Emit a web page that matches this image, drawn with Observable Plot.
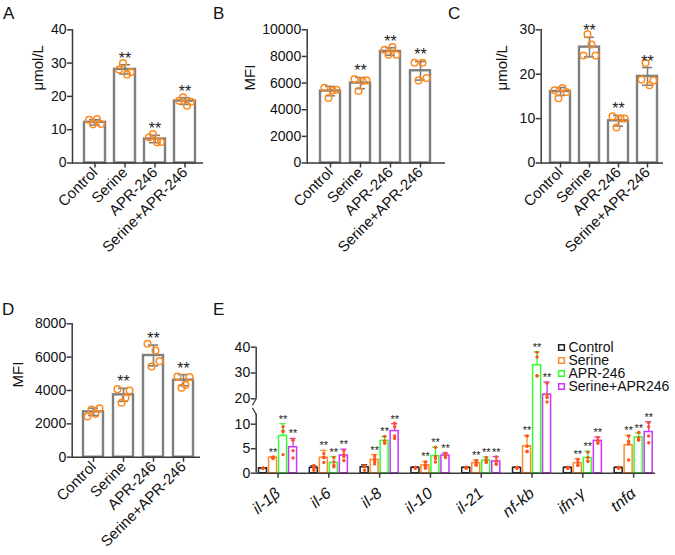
<!DOCTYPE html>
<html><head><meta charset="utf-8">
<script src="https://cdn.jsdelivr.net/npm/d3@7"></script>
<script src="https://cdn.jsdelivr.net/npm/@observablehq/plot@0.6"></script>
<style>
body{margin:0;background:#fff;}
#fig{position:relative;width:675px;height:555px;overflow:hidden;font-family:"Liberation Sans",Arial,sans-serif;background:#fff;color:#111;}
.panel{position:absolute;}
.letter{position:absolute;font-size:17px;line-height:1;color:#111;}
</style></head><body><div id="fig"></div>
<script>
// ---------- data ----------
const groups = ["Control", "Serine", "APR-246", "Serine+APR-246"];

// Panel A (μmol/L)
const aMeans = [12.2, 28.1, 7.2, 18.6];
const aSd = [0.8, 1.4, 1.1, 1.0];
const aPoints = [[13.0, 11.6, 13.2, 11.7], [28.1, 30.0, 26.6, 27.3], [7.7, 8.7, 6.2, 6.3], [18.7, 19.7, 17.2, 18.4]];
const aSig = ["", "**", "**", "**"];
const aTicks = [0, 10, 20, 30, 40];

// Panel B (MFI)
const bMeans = [5400, 6000, 8375, 6925];
const bSd = [350, 420, 280, 700];
const bPoints = [[5650, 4875, 5450, 5500], [6300, 5400, 6150, 6200], [8500, 8125, 8700, 8125], [7525, 6200, 7525, 6375]];
const bSig = ["", "**", "**", "**"];
const bTicks = [0, 2000, 4000, 6000, 8000, 10000];

// Panel C (μmol/L)
const cMeans = [16.1, 26.1, 9.5, 19.5];
const cSd = [0.9, 2.2, 1.2, 2.0];
const cPoints = [[16.4, 14.6, 16.9, 16.0], [24.2, 29.0, 26.7, 24.2], [10.5, 8.0, 10.0, 10.0], [18.8, 22.5, 17.5, 18.6]];
const cSig = ["", "**", "**", "**"];
const cTicks = [0, 10, 20, 30];

// Panel D (MFI)
const dMeans = [2720, 3740, 6100, 4620];
const dSd = [220, 390, 620, 330];
const dPoints = [[2440, 2860, 2600, 2940], [4080, 3260, 3560, 4000], [6800, 5440, 6400, 5760], [4840, 4160, 4340, 4800]];
const dSig = ["", "**", "**", "**"];
const dTicks = [0, 2000, 4000, 6000, 8000];

// Panel E (relative expression, broken axis)
const genes = ["il-1β", "il-6", "il-8", "il-10", "il-21", "nf-kb", "ifn-γ", "tnfα"];
const eSeries = ["Control", "Serine", "APR-246", "Serine+APR246"];
const eControl = [1.0, 1.1, 1.2, 1.1, 1.1, 1.1, 1.1, 1.1];
const eControlSd = [0.05, 0.4, 0.5, 0.2, 0.15, 0.15, 0.15, 0.15];
const eSerine = [3.15, 3.15, 2.7, 1.6, 2.05, 5.5, 2.05, 5.7];
const eSerineSd = [0.25, 1.5, 1.1, 0.8, 0.65, 2.2, 0.9, 2.0];
const eApr = [7.6, 2.1, 6.6, 3.5, 2.6, 33.0, 3.1, 7.3];
const eAprSd = [2.5, 1.3, 0.9, 1.8, 0.7, 5.2, 1.4, 0.9];
const eSerApr = [5.3, 3.6, 8.6, 3.6, 2.4, 21.6, 6.6, 8.4];
const eSerAprSd = [1.8, 1.3, 1.5, 0.5, 1.0, 4.9, 0.8, 2.1];
const eControlPts = [[1, 1, 1, 1], [1.6, 0.6, 1.2, 1.0], [1.5, 0.6, 1.4, 1.3], [1.0, 1.2, 1.1, 1.1], [1.0, 1.2, 1.1, 1.1], [1.2, 1.0, 1.1, 1.1], [1.2, 1.0, 1.1, 1.1], [1.2, 1.0, 1.1, 1.1]];
const eSerinePts = [[3.0, 3.2, 3.3, 3.1], [4.0, 3.2, 2.2, 3.2], [3.5, 2.9, 2.4, 1.9], [2.3, 1.4, 1.0, 1.7], [2.6, 2.2, 1.8, 1.6], [7.6, 4.5, 5.5, 4.4], [2.8, 2.2, 1.6, 1.6], [7.6, 6.0, 6.5, 2.7]];
const eAprPts = [[9.5, 8.6, 8.5, 3.8], [3.2, 2.3, 1.6, 1.3], [7.5, 6.6, 6.2, 6.1], [5.3, 3.4, 3.0, 2.3], [3.2, 2.6, 2.2, 2.4], [38.0, 36.2, 29.0, 28.8], [4.3, 3.2, 2.4, 2.5], [8.3, 7.2, 7.0, 6.7]];
const eSerAprPts = [[6.9, 6.7, 4.6, 3.1], [4.6, 3.8, 3.4, 2.6], [10.2, 9.5, 7.6, 7.1], [4.1, 3.6, 3.5, 3.2], [3.3, 2.5, 2.0, 1.8], [26.0, 21.5, 20.5, 18.4], [7.3, 6.6, 6.4, 6.1], [10.3, 9.5, 7.6, 6.2]];
const eSig = ["", "**", "**", "**"];
const eTicks = [0, 5, 10, 20, 30, 40];
const eSegments = [[0, 12], [20, 40]];   // the two pieces of the broken y axis
const eBreaks = [{y: 20, r: 210}, {y: 12, r: 330}];

// ---------- style ----------
const GRAY = "#7f7f7f";
const AXIS = "#3a3a3a";
const ORANGE = "#ff8a1c";
const eColors = ["#222222", "#ff8c28", "#33ff33", "#cc33ff"];
const PTRED = "#ff531f";
const FONT = '"Liberation Sans", Arial, sans-serif';
const DOT_DX = [-6, -2, 2, 6];

const fig = document.getElementById("fig");
function place(node, left, top) {
  const d = document.createElement("div");
  d.className = "panel";
  d.style.left = left + "px"; d.style.top = top + "px";
  d.appendChild(node);
  fig.appendChild(d);
}
function letter(t, left, top) {
  const d = document.createElement("div");
  d.className = "letter";
  d.textContent = t;
  d.style.left = left + "px"; d.style.top = top + "px";
  fig.appendChild(d);
}

function barPanel(o) {
  const rows = groups.map((g, i) => ({g, mean: o.means[i], sd: o.sd[i], sig: o.sig[i]}));
  const pts = groups.flatMap((g, i) => o.points[i].map((v, k) => ({g, v, k})));
  return Plot.plot({
    width: o.width, height: o.height,
    marginLeft: o.ml, marginRight: o.mr, marginTop: o.mt, marginBottom: o.mb,
    style: {fontFamily: FONT, background: "transparent", color: "#111", overflow: "visible"},
    x: {domain: groups, paddingInner: o.pi, paddingOuter: o.po, align: o.align},
    y: {domain: [0, o.yMax]},
    marks: [
      Plot.barY(rows, {x: "g", y: "mean", fill: "white", stroke: GRAY, strokeWidth: 2.4}),
      Plot.ruleX(rows, {x: "g", y1: d => d.mean - d.sd, y2: d => d.mean + d.sd, stroke: GRAY, strokeWidth: 1.6}),
      Plot.tickY(rows, {x: "g", y: d => d.mean + d.sd, stroke: GRAY, strokeWidth: 1.6, insetLeft: 5, insetRight: 5}),
      Plot.tickY(rows, {x: "g", y: d => d.mean - d.sd, stroke: GRAY, strokeWidth: 1.6, insetLeft: 5, insetRight: 5}),
      ...DOT_DX.map((dx, k) => Plot.dot(pts.filter(p => p.k === k), {x: "g", y: "v", dx, r: 3.3, stroke: ORANGE, strokeWidth: 1.5, fill: "none"})),
      Plot.text(rows.filter(d => d.sig), {x: "g", y: d => d.mean + d.sd, text: "sig", lineAnchor: "bottom", dy: -1, fontSize: 16, fill: "#222"}),
      Plot.axisY({ticks: o.ticks, tickFormat: "d", tickSize: 5, tickPadding: 1, fontSize: 14, label: null, stroke: AXIS, strokeWidth: 1.5}),
      Plot.axisX({tickSize: 5, tickPadding: 2, tickRotate: -45, fontSize: 15, label: null, stroke: AXIS, strokeWidth: 1.5}),
      Plot.frame({anchor: "left", stroke: AXIS, strokeWidth: 1.5}),
      Plot.ruleY([0], {stroke: AXIS, strokeWidth: 1.5}),
      Plot.text([o.yLabel], {text: d => d, frameAnchor: "left", dx: -o.ldx, dy: o.ldy, rotate: -90, fontSize: 15, fill: "#111"})
    ]
  });
}

place(barPanel({means: aMeans, sd: aSd, points: aPoints, sig: aSig, ticks: aTicks, yMax: 40, yLabel: "μmol/L",
  width: 225, height: 290, ml: 72, mr: 22, mt: 29.3, mb: 127.5, pi: 0.31, po: 0.3, align: 0.6, ldx: 34, ldy: -6}), 0, 0);
place(barPanel({means: bMeans, sd: bSd, points: bPoints, sig: bSig, ticks: bTicks, yMax: 10000, yLabel: "MFI",
  width: 225, height: 290, ml: 81.7, mr: 5, mt: 29.3, mb: 127.5, pi: 0.33, po: 0.47, align: 0.47, ldx: 56.7, ldy: -6}), 225, 0);
place(barPanel({means: cMeans, sd: cSd, points: cPoints, sig: cSig, ticks: cTicks, yMax: 30, yLabel: "μmol/L",
  width: 230, height: 290, ml: 95.7, mr: 12, mt: 29.3, mb: 127.5, pi: 0.3, po: 0.21, align: 0.63, ldx: 38.7, ldy: -6}), 445, 0);
place(barPanel({means: dMeans, sd: dSd, points: dPoints, sig: dSig, ticks: dTicks, yMax: 8000, yLabel: "MFI",
  width: 225, height: 265, ml: 71.7, mr: 25, mt: 33.3, mb: 98.3, pi: 0.32, po: 0.277, align: 0.65, ldx: 53.7, ldy: -3}), 0, 290);

// ---------- Panel E ----------
const eMeansAll = [eControl, eSerine, eApr, eSerApr];
const eSdAll = [eControlSd, eSerineSd, eAprSd, eSerAprSd];
const ePtsAll = [eControlPts, eSerinePts, eAprPts, eSerAprPts];
const eXDomain = [-0.43, 7.43];
const SLOT = 0.197, HALF = 0.079, CAP = 0.06;
const eRows = [];
const ePts = [];
eSeries.forEach((s, si) => genes.forEach((g, gi) => {
  const c = gi + (si - 1.5) * SLOT;
  eRows.push({s, si, g, gi, c, mean: eMeansAll[si][gi], sd: eSdAll[si][gi], sig: eSig[si]});
  ePtsAll[si][gi].forEach((v, k) => ePts.push({s, c, v, k}));
}));

const plotE = Plot.plot({
  width: 450, height: 265,
  marginLeft: 30.7, marginRight: 20, marginTop: 56.7, marginBottom: 82.3,
  style: {fontFamily: FONT, background: "transparent", color: "#111", overflow: "visible"},
  x: {type: "linear", domain: eXDomain},
  y: {type: "linear", domain: [0, 12, 20, 40], range: [182.7, 123.9, 108.3, 56.7]},
  color: {domain: eSeries, range: eColors},
  marks: [
    Plot.rect(eRows, {x1: d => d.c - HALF, x2: d => d.c + HALF, y1: 0, y2: "mean", fill: "white", stroke: "s", strokeWidth: 1.5}),
    Plot.ruleX(eRows, {x: "c", y1: "mean", y2: d => d.mean + d.sd, stroke: "s", strokeWidth: 1.3}),
    Plot.ruleY(eRows, {y: d => d.mean + d.sd, x1: d => d.c - CAP, x2: d => d.c + CAP, stroke: "s", strokeWidth: 1.3}),
    Plot.dot(ePts, {x: "c", y: "v", r: 1.7, fill: PTRED}),
    Plot.text(eRows.filter(d => d.sig), {x: "c", y: d => d.mean + d.sd, text: "sig", lineAnchor: "bottom", dy: -1, fontSize: 11, fill: "#222"}),
    Plot.axisY({ticks: eTicks, tickFormat: "d", tickSize: 5, tickPadding: 1, fontSize: 14, label: null, stroke: AXIS, strokeWidth: 1.5}),
    Plot.axisX({ticks: d3.range(genes.length), tickFormat: i => genes[i], tickSize: 5, tickPadding: 13, tickRotate: -40, fontSize: 16, fontStyle: "italic", label: null, stroke: AXIS, strokeWidth: 1.5}),
    Plot.ruleX(eSegments, {x: () => eXDomain[0], y1: d => d[0], y2: d => d[1], stroke: AXIS, strokeWidth: 1.5}),
    Plot.vector(eBreaks, {x: () => eXDomain[0], y: "y", rotate: "r", length: 7, anchor: "start", stroke: AXIS, strokeWidth: 1.2,
      shape: {draw(ctx, l) { ctx.moveTo(0, 0); ctx.lineTo(0, -l); }}}),
    Plot.ruleY([0], {stroke: AXIS, strokeWidth: 1.5})
  ]
});
place(plotE, 225, 290);

// legend for E
const legendE = Plot.plot({
  width: 122, height: 76, margin: 0,
  style: {fontFamily: FONT, background: "transparent", color: "#111", overflow: "visible"},
  y: {type: "point", domain: eSeries, range: [10, 63], axis: null},
  color: {domain: eSeries, range: eColors},
  marks: [
    Plot.dot(eSeries, {y: d => d, frameAnchor: "left", dx: 8, symbol: "square", r: 3.2, stroke: d => d, fill: "white", strokeWidth: 1.5}),
    Plot.text(eSeries, {y: d => d, text: d => d, frameAnchor: "left", dx: 15, textAnchor: "start", fontSize: 14, fill: "#111"})
  ]
});
place(legendE, 553, 330);

letter("A", 3, 5);
letter("B", 213, 5);
letter("C", 448, 5);
letter("D", 2, 301);
letter("E", 213, 301);
</script></body></html>
